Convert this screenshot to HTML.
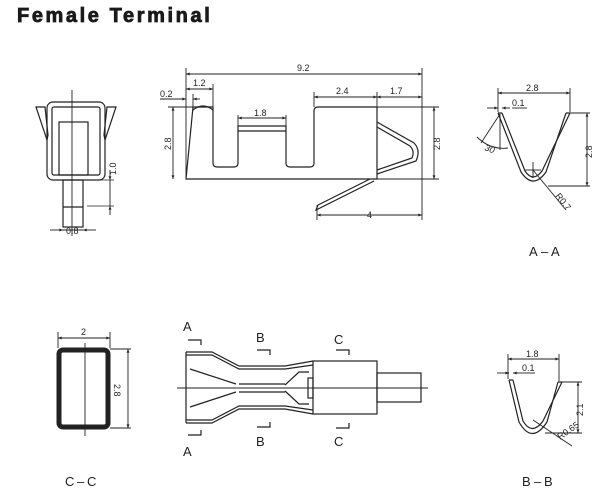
<!DOCTYPE html>
<html><head><meta charset="utf-8"><style>
html,body{margin:0;padding:0;background:#fff;width:600px;height:490px;overflow:hidden}
svg{display:block}
text{font-family:"Liberation Sans",sans-serif;fill:#222}
</style></head><body>
<svg width="600" height="490" viewBox="0 0 600 490" xmlns="http://www.w3.org/2000/svg">
<defs>
<marker id="a" viewBox="0 0 10 10" refX="10" refY="5" markerWidth="6" markerHeight="4" orient="auto-start-reverse"><path d="M0,1 L10,5 L0,9 z" fill="#222"/></marker>
</defs>
<text x="17" y="22" font-size="20" font-weight="bold" letter-spacing="2.6" style="fill:#1a1a1a;stroke:#1a1a1a;stroke-width:0.8">Female Terminal</text>

<g stroke="#222" fill="none" stroke-width="1.2">
<!-- FRONT VIEW -->
<rect x="47" y="102" width="58" height="78" rx="6"/>
<rect x="52" y="107" width="48" height="68" rx="2"/>
<rect x="59" y="122" width="29" height="53"/>
<path d="M36,107 L45,107 L48,135 L47,140 Z"/>
<path d="M116,107 L107,107 L104,135 L105,140 Z"/>
<rect x="63" y="180" width="20" height="47"/>
<line x1="63" y1="207" x2="83" y2="207"/>
<line x1="72" y1="90" x2="72" y2="236" stroke-width="0.9"/>
<line x1="87" y1="180" x2="114" y2="180" stroke-width="0.8"/>
<line x1="87" y1="206" x2="114" y2="206" stroke-width="0.8"/>
<line x1="110" y1="170" x2="110" y2="180" marker-end="url(#a)" stroke-width="0.9"/>
<line x1="110" y1="215" x2="110" y2="206" marker-end="url(#a)" stroke-width="0.9"/>
<line x1="110" y1="180" x2="110" y2="206" stroke-width="0.9"/>
<line x1="50" y1="230" x2="63" y2="230" marker-end="url(#a)" stroke-width="0.9"/>
<line x1="96" y1="230" x2="83" y2="230" marker-end="url(#a)" stroke-width="0.9"/>
<line x1="63" y1="230" x2="83" y2="230" stroke-width="0.9"/>

<!-- SIDE VIEW -->
<path d="M186,179 L193,107 L213,107 L213,163 Q213,167 217,167 L234,167 Q238,167 238,163 L238,126 L286,126 L286,163 Q286,167 290,167 L310,167 Q314,167 314,163 L314,111 Q314,107 318,107 L377,107 L377,179 Z"/>
<path d="M193,110 Q203,102 213,110"/>
<path d="M238,131 L286,131"/>
<path d="M377,122 L414,143 Q421,150 416,161 L377,174"/>
<path d="M377,127 L410,146 Q415,151 412,158 L377,170"/>
<path d="M370,179 L318,205 L316,210 L374,181"/>
<g stroke-width="0.9">
<line x1="186" y1="68" x2="186" y2="179"/>
<line x1="422" y1="68" x2="422" y2="220"/>
<line x1="186" y1="74" x2="422" y2="74" marker-start="url(#a)" marker-end="url(#a)"/>
<line x1="213" y1="84" x2="213" y2="107"/>
<line x1="186" y1="89" x2="213" y2="89" marker-start="url(#a)" marker-end="url(#a)"/>
<line x1="193" y1="94" x2="193" y2="107"/>
<line x1="160" y1="99" x2="186" y2="99" marker-end="url(#a)"/>
<line x1="200" y1="99" x2="193" y2="99" marker-end="url(#a)"/>
<line x1="314" y1="92" x2="314" y2="107"/>
<line x1="377" y1="92" x2="377" y2="107"/>
<line x1="314" y1="97" x2="377" y2="97" marker-start="url(#a)" marker-end="url(#a)"/>
<line x1="377" y1="97" x2="422" y2="97" marker-start="url(#a)" marker-end="url(#a)"/>
<line x1="238" y1="115" x2="238" y2="126"/>
<line x1="286" y1="115" x2="286" y2="126"/>
<line x1="238" y1="118" x2="286" y2="118" marker-start="url(#a)" marker-end="url(#a)"/>
<line x1="168" y1="107" x2="193" y2="107"/>
<line x1="173" y1="107" x2="173" y2="179" marker-start="url(#a)" marker-end="url(#a)"/>
<line x1="377" y1="107" x2="439" y2="107"/>
<line x1="377" y1="179" x2="439" y2="179"/>
<line x1="434" y1="107" x2="434" y2="179" marker-start="url(#a)" marker-end="url(#a)"/>
<line x1="317" y1="205" x2="317" y2="220"/>
<line x1="317" y1="215" x2="422" y2="215" marker-start="url(#a)" marker-end="url(#a)"/>
</g>

<!-- A-A -->
<path d="M498,113 L521,172 Q533,190 546,172 L566,113"/>
<path d="M502,113 L525,171 Q533,183 542,171 L570,113"/>
<path d="M498,113 L502,113 M566,113 L570,113"/>
<g stroke-width="0.9">
<line x1="498" y1="88" x2="498" y2="112"/>
<line x1="570" y1="88" x2="570" y2="112"/>
<line x1="498" y1="93" x2="570" y2="93" marker-start="url(#a)" marker-end="url(#a)"/>
<line x1="487" y1="108" x2="498" y2="108" marker-end="url(#a)"/>
<line x1="510" y1="108" x2="502" y2="108" marker-end="url(#a)"/>
<line x1="512" y1="108" x2="527" y2="108"/>
<line x1="570" y1="113" x2="590" y2="113"/>
<line x1="548" y1="186" x2="590" y2="186"/>
<line x1="587" y1="113" x2="587" y2="186" marker-start="url(#a)" marker-end="url(#a)"/>
<line x1="525" y1="170" x2="541" y2="170"/>
<line x1="533" y1="162" x2="533" y2="178"/>
<line x1="533" y1="170" x2="566" y2="210"/>
<line x1="500" y1="114" x2="481" y2="143"/>
<line x1="500" y1="114" x2="500" y2="150"/>
<path d="M477,137 Q490,150 508,148"/>
</g>

<!-- C-C -->
<rect x="59" y="350" width="49" height="77" rx="4" stroke-width="5"/>
<g stroke-width="0.9">
<line x1="85" y1="343" x2="85" y2="436"/>
<line x1="58" y1="332" x2="58" y2="348"/>
<line x1="110" y1="332" x2="110" y2="348"/>
<line x1="58" y1="338" x2="110" y2="338" marker-start="url(#a)" marker-end="url(#a)"/>
<line x1="110" y1="349" x2="131" y2="349"/>
<line x1="110" y1="428" x2="131" y2="428"/>
<line x1="128" y1="349" x2="128" y2="428" marker-start="url(#a)" marker-end="url(#a)"/>
</g>

<!-- TOP VIEW -->
<line x1="186" y1="352" x2="186" y2="423"/>
<path d="M186,352 L212,352 L239,366 L285,366 L313,361"/>
<path d="M186,355 L212,355 L239,369 L285,369 L313,365"/>
<path d="M186,423 L212,423 L239,409 L285,409 L313,414"/>
<path d="M186,420 L212,420 L239,406 L285,406 L313,410"/>
<rect x="313" y="361" width="64" height="53"/>
<rect x="377" y="373" width="44" height="29"/>
<rect x="308" y="378" width="5" height="20"/>
<line x1="190" y1="369" x2="236" y2="384"/>
<line x1="190" y1="407" x2="236" y2="392"/>
<line x1="239" y1="384" x2="285" y2="384"/>
<line x1="239" y1="392" x2="285" y2="392"/>
<path d="M285,385 L299,372 L309,372 M285,391 L299,404 L309,404"/>
<line x1="177" y1="388" x2="428" y2="388" stroke-width="1"/>
<path d="M188,340 L201,340 L201,345 M188,435 L201,435 L201,430"/>
<path d="M257,350 L270,350 L270,355 M257,427 L270,427 L270,422"/>
<path d="M336,350 L349,350 L349,355 M336,428 L349,428 L349,423"/>

<!-- B-B -->
<path d="M509,380 L519,422 Q532,445 547,422 L558,382"/>
<path d="M513,380 L523,421 Q532,436 543,421 L562,382"/>
<path d="M509,380 L513,380 M558,382 L562,382"/>
<g stroke-width="0.9">
<line x1="508" y1="354" x2="508" y2="379"/>
<line x1="559" y1="354" x2="559" y2="381"/>
<line x1="508" y1="359" x2="559" y2="359" marker-start="url(#a)" marker-end="url(#a)"/>
<line x1="497" y1="373" x2="509" y2="373" marker-end="url(#a)"/>
<line x1="520" y1="373" x2="513" y2="373" marker-end="url(#a)"/>
<line x1="520" y1="373" x2="535" y2="373"/>
<line x1="562" y1="382" x2="582" y2="382"/>
<line x1="545" y1="433" x2="582" y2="433"/>
<line x1="578" y1="382" x2="578" y2="433" marker-start="url(#a)" marker-end="url(#a)"/>
<line x1="533" y1="420" x2="572" y2="446"/>
</g>
</g>

<g font-size="9">
<text x="297" y="71">9.2</text>
<text x="193" y="86">1.2</text>
<text x="160" y="97">0.2</text>
<text x="336" y="94">2.4</text>
<text x="390" y="94">1.7</text>
<text x="254" y="116">1.8</text>
<text x="367" y="218">4</text>
<text transform="translate(171,150) rotate(-90)">2.8</text>
<text transform="translate(440,150) rotate(-90)">2.8</text>
<text transform="translate(116,175) rotate(-90)">1.0</text>
<text x="66" y="234">0.8</text>
<text x="526" y="91">2.8</text>
<text x="512" y="106">0.1</text>
<text transform="translate(592,158) rotate(-90)">2.8</text>
<text transform="translate(484,150) rotate(20)" font-style="italic">30</text>
<text transform="translate(555,196) rotate(52)">R0.7</text>
<text x="81" y="335">2</text>
<text transform="translate(114,384) rotate(90)">2.8</text>
<text x="526" y="357">1.8</text>
<text x="522" y="371">0.1</text>
<text transform="translate(583,416) rotate(-90)">2.1</text>
<text transform="translate(560,440) rotate(-35)">R0.65</text>
</g>
<g font-size="13">
<text x="529" y="256">A</text><text x="541" y="256">–</text><text x="551" y="256">A</text>
<text x="65" y="486">C</text><text x="77" y="486">–</text><text x="87" y="486">C</text>
<text x="522" y="486">B</text><text x="534" y="486">–</text><text x="544" y="486">B</text>
<text x="183" y="331">A</text><text x="183" y="456">A</text>
<text x="256" y="342">B</text><text x="256" y="446">B</text>
<text x="334" y="344">C</text><text x="334" y="446">C</text>
</g>
</svg>
</body></html>
